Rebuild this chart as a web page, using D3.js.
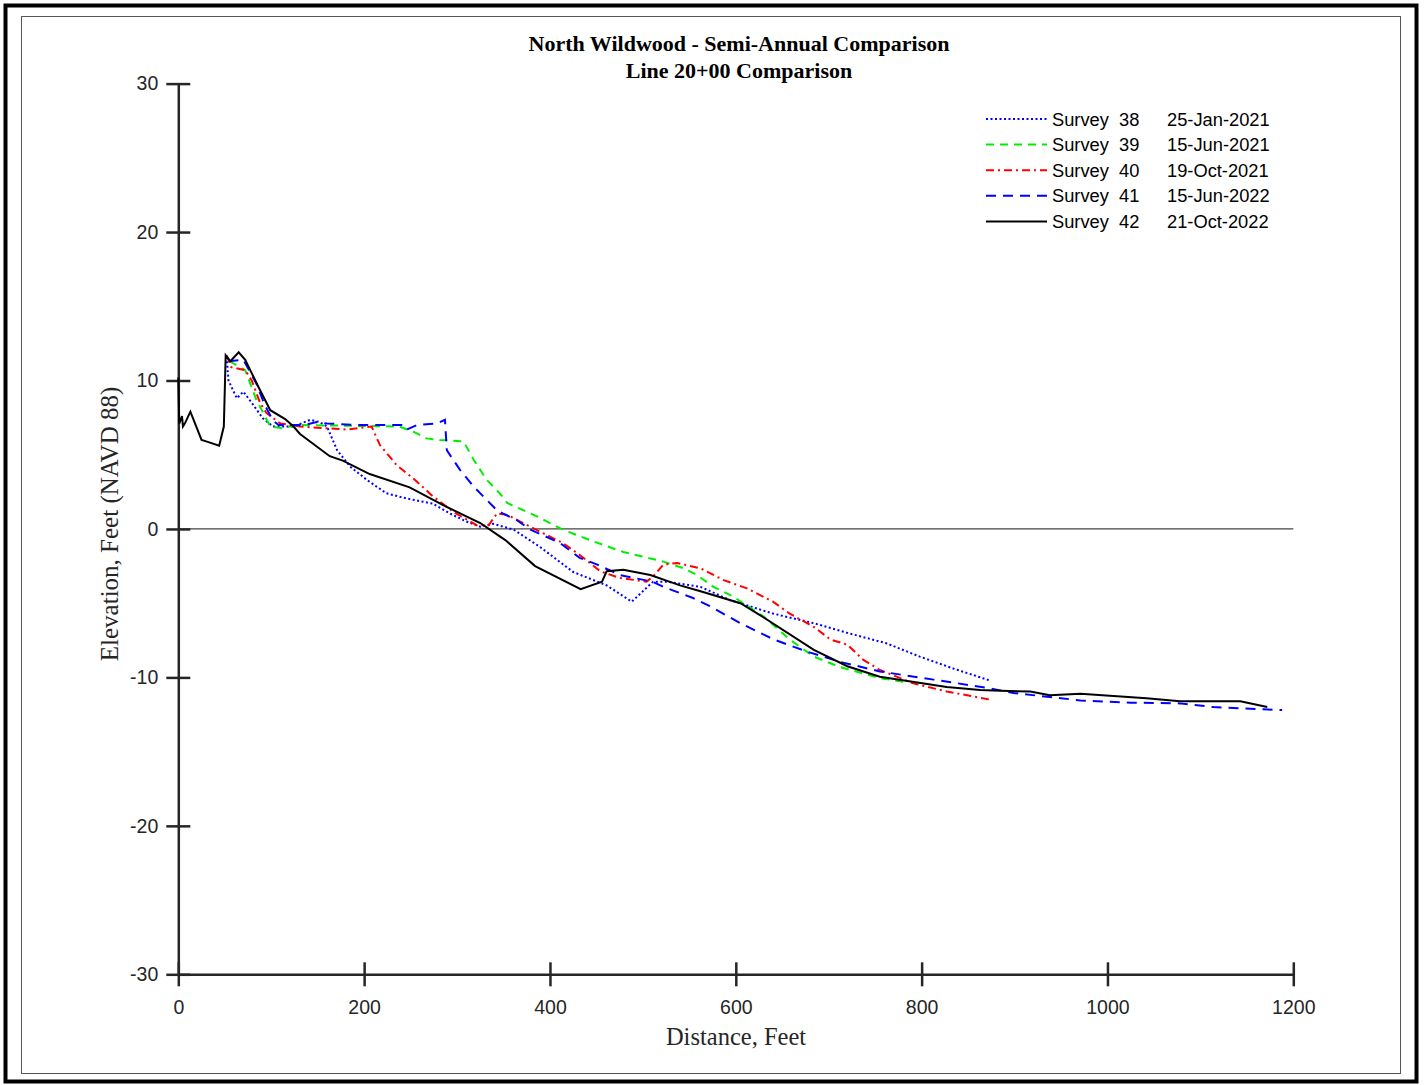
<!DOCTYPE html>
<html><head><meta charset="utf-8">
<script src="https://cdn.jsdelivr.net/npm/d3@7"></script>
<style>body{margin:0;background:#fff}svg{display:block}</style>
</head><body>
<script>
const titleLines = ["North Wildwood - Semi-Annual Comparison", "Line 20+00 Comparison"];
const xLabel = "Distance, Feet";
const yLabel = "Elevation, Feet (NAVD 88)";
const xTicks = [0, 200, 400, 600, 800, 1000, 1200];
const yTicks = [-30, -20, -10, 0, 10, 20, 30];
const surveyNames = ["Survey  38", "Survey  39", "Survey  40", "Survey  41", "Survey  42"];
const surveyDates = ["25-Jan-2021", "15-Jun-2021", "19-Oct-2021", "15-Jun-2022", "21-Oct-2022"];

const survey38 = [[52,11.6],[54,10.0],[63,8.8],[70,9.25],[79,8.5],[91,7.45],[102,6.9],[124,6.9],[142,7.35],[152,7.2],[160,6.9],[171,5.3],[185,4.2],[203,3.3],[224,2.4],[246,2.05],[274,1.7],[292,1.05],[310,0.5],[325,0.15],[339,0.35],[361,-0.05],[389,-1.2],[425,-2.9],[461,-3.8],[488,-4.9],[511,-3.55],[526,-3.55],[562,-3.9],[594,-4.8],[640,-5.7],[684,-6.35],[720,-7.0],[762,-7.7],[798,-8.6],[834,-9.4],[873,-10.2]];
const survey39 = [[55,11.3],[72,10.7],[84,8.7],[99,6.9],[110,6.8],[131,7.0],[238,6.9],[253,6.55],[267,6.1],[281,6.0],[307,5.9],[318,4.65],[332,3.3],[346,2.4],[354,1.75],[386,0.85],[414,-0.05],[447,-0.85],[479,-1.55],[522,-2.2],[544,-2.65],[558,-3.1],[576,-3.9],[597,-4.55],[630,-5.9],[658,-7.45],[684,-8.6],[712,-9.3],[755,-10.05],[786,-10.35]];
const survey40 = [[52,11.7],[57,10.9],[72,10.7],[79,10.0],[88,8.5],[95,7.8],[110,7.1],[131,6.9],[181,6.7],[208,6.9],[217,5.65],[235,4.3],[253,3.4],[274,2.2],[296,1.15],[321,0.25],[334,0.25],[343,1.05],[354,0.95],[368,0.5],[393,-0.3],[414,-0.95],[432,-1.75],[454,-2.85],[475,-3.3],[504,-3.55],[511,-3.2],[522,-2.4],[537,-2.3],[562,-2.65],[587,-3.45],[612,-4.0],[640,-4.9],[658,-5.7],[684,-6.6],[702,-7.45],[720,-7.8],[737,-8.8],[755,-9.5],[791,-10.4],[827,-10.95],[874,-11.5]];
const survey41 = [[54,11.3],[70,11.4],[84,9.8],[93,8.35],[102,7.3],[108,7.0],[135,7.0],[149,7.2],[160,7.1],[196,7.0],[242,7.0],[246,6.7],[257,7.0],[278,7.1],[287,7.35],[289,5.3],[303,4.0],[318,2.85],[332,1.95],[343,1.25],[349,1.05],[364,0.6],[379,-0.05],[411,-0.95],[432,-1.95],[451,-2.4],[475,-3.1],[510,-3.55],[522,-3.9],[554,-4.65],[572,-5.2],[605,-6.35],[641,-7.45],[676,-8.25],[712,-8.95],[755,-9.6],[813,-10.15],[870,-10.7],[899,-11.05],[935,-11.3],[971,-11.55],[1025,-11.7],[1078,-11.75],[1114,-12.0],[1168,-12.15],[1188,-12.2]];
const survey42 = [[0,10.2],[1,7.1],[4,7.6],[5,6.9],[7,7.1],[13,7.9],[25,6.0],[30,5.9],[44,5.6],[49,6.9],[51,11.7],[56,11.3],[65,11.9],[72,11.4],[79,10.5],[86,9.6],[99,8.0],[115,7.4],[124,6.9],[131,6.4],[163,4.9],[177,4.6],[206,3.7],[249,2.8],[285,1.6],[325,0.4],[346,-0.5],[352,-0.75],[384,-2.5],[433,-4.05],[456,-3.55],[461,-2.85],[479,-2.75],[508,-3.1],[540,-3.8],[562,-4.2],[605,-5.0],[626,-5.8],[684,-8.15],[720,-9.25],[755,-9.95],[827,-10.65],[863,-10.85],[885,-10.9],[917,-10.95],[938,-11.2],[971,-11.1],[1042,-11.4],[1078,-11.6],[1143,-11.6],[1172,-12.0]];

const seriesData = [survey38, survey39, survey40, survey41, survey42];
const colors = ["#0000ff", "#00ee00", "#ff0000", "#0000ff", "#000000"];
const dashes = ["2,2.5", "8,6", "8,4,2,4", "10,7", null];

const W = 1424, H = 1085;
const svg = d3.select("body").append("svg").attr("width", W).attr("height", H);

// frames
svg.append("rect").attr("x", 5.5).attr("y", 5.5).attr("width", 1411).attr("height", 1076)
  .attr("fill", "none").attr("stroke", "#000").attr("stroke-width", 4);
svg.append("rect").attr("x", 21.5).attr("y", 16.5).attr("width", 1379).attr("height", 1057)
  .attr("fill", "none").attr("stroke", "#555").attr("stroke-width", 1);

const x = d3.scaleLinear().domain([0, 1200]).range([178.3, 1293.3]);
const y = d3.scaleLinear().domain([-30, 30]).range([974.3, 83.6]);

const axisColor = "#262626";
const sans = "'Liberation Sans', Arial, sans-serif";
const serif = "'Liberation Serif', 'Times New Roman', serif";
const fmt = d => String(d);

// zero line
svg.append("line").attr("x1", x(0)).attr("x2", x(1200)).attr("y1", y(0)).attr("y2", y(0))
  .attr("stroke", "#444").attr("stroke-width", 1.2);

// axes
const xAxis = d3.axisBottom(x).tickValues(xTicks).tickFormat(fmt).tickSize(0).tickPadding(26);
const gx = svg.append("g").attr("transform", `translate(0,${y(-30)})`).call(xAxis);
gx.select(".domain").attr("stroke", axisColor).attr("stroke-width", 2.5);
gx.selectAll(".tick text").attr("font-family", sans).attr("font-size", 19.5).attr("fill", axisColor);
gx.selectAll(".tick").append("line").attr("y1", -12).attr("y2", 12).attr("stroke", axisColor).attr("stroke-width", 2.5);

const yAxis = d3.axisLeft(y).tickValues(yTicks).tickFormat(fmt).tickSize(0).tickPadding(20);
const gy = svg.append("g").attr("transform", `translate(${x(0)},0)`).call(yAxis);
gy.select(".domain").attr("stroke", axisColor).attr("stroke-width", 2.5);
gy.selectAll(".tick text").attr("font-family", sans).attr("font-size", 19.5).attr("fill", axisColor);
gy.selectAll(".tick").append("line").attr("x1", -12).attr("x2", 12).attr("stroke", axisColor).attr("stroke-width", 2.5);

// series
const line = d3.line().x(d => x(d[0])).y(d => y(d[1]));
seriesData.forEach((s, i) => {
  svg.append("path").datum(s).attr("d", line).attr("fill", "none")
    .attr("stroke", colors[i]).attr("stroke-width", 2)
    .attr("stroke-dasharray", dashes[i]);
});

// title
titleLines.forEach((t, i) => {
  svg.append("text").attr("x", 739).attr("y", 51 + i * 27).attr("text-anchor", "middle")
    .attr("font-family", serif).attr("font-weight", "bold").attr("font-size", 22).attr("fill", "#000").text(t);
});

// axis labels
svg.append("text").attr("x", 736).attr("y", 1045).attr("text-anchor", "middle")
  .attr("font-family", serif).attr("font-size", 24.5).attr("fill", "#262626").text(xLabel);
svg.append("text").attr("transform", `translate(118,${y(0) - 5}) rotate(-90)`).attr("text-anchor", "middle")
  .attr("font-family", serif).attr("font-size", 25).attr("fill", "#262626").text(yLabel);

// legend
const lg = svg.append("g");
surveyNames.forEach((n, i) => {
  const yy = 119 + i * 25.6;
  lg.append("line").attr("x1", 986).attr("x2", 1047).attr("y1", yy).attr("y2", yy)
    .attr("stroke", colors[i]).attr("stroke-width", 2).attr("stroke-dasharray", dashes[i]);
  lg.append("text").attr("x", 1052).attr("y", yy + 6.5).attr("font-family", sans).attr("font-size", 18.3)
    .attr("fill", "#000").style("white-space", "pre").text(n);
  lg.append("text").attr("x", 1167).attr("y", yy + 6.5).attr("font-family", sans).attr("font-size", 18.3)
    .attr("fill", "#000").text(surveyDates[i]);
});
</script>
</body></html>
